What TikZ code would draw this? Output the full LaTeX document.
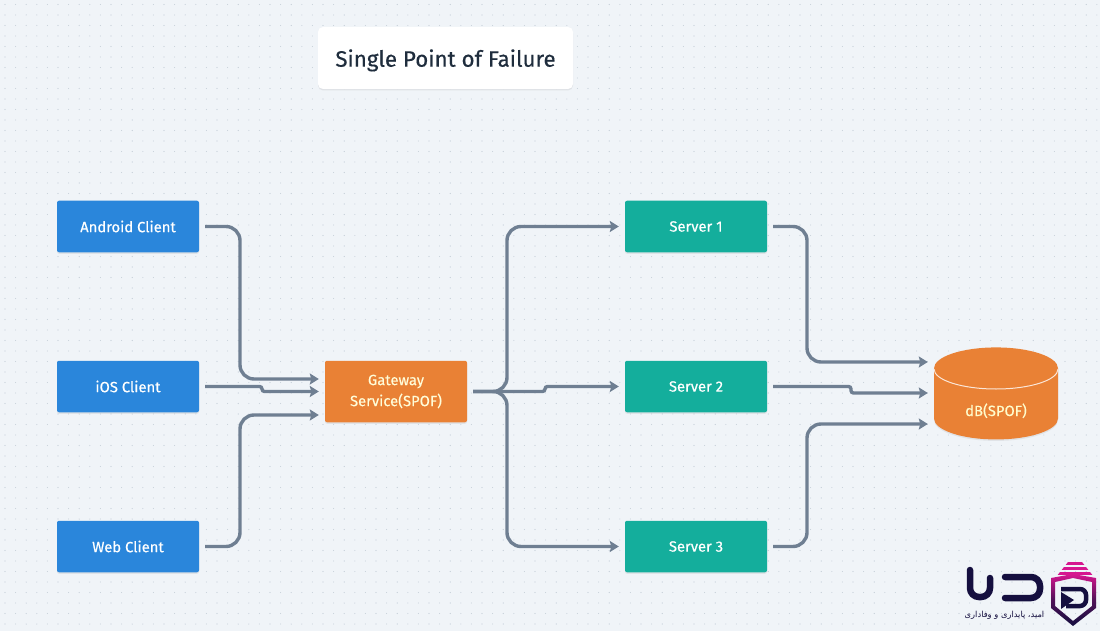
\documentclass[tikz,border=0pt]{standalone}
\usepackage{fontspec}
\setmainfont{Fira Sans}
\newfontfamily\boxfont{Fira Sans}[FakeBold=0.35]
\newfontfamily\arabicfont[Script=Arabic]{DejaVu Sans}
\TeXXeTstate=1
\usetikzlibrary{arrows.meta,shadows,shapes.geometric}
\definecolor{pagebg}{HTML}{F0F4F8}
\definecolor{griddot}{HTML}{C3CDD7}
\definecolor{titleink}{HTML}{1F2D3D}
\definecolor{clientblue}{HTML}{2A86DB}
\definecolor{serverteal}{HTML}{14AE9C}
\definecolor{spoforange}{HTML}{E98135}
\definecolor{flowgray}{HTML}{6F7F92}
\definecolor{logonavy}{HTML}{150F3F}
\definecolor{logopink}{HTML}{D6168F}
\tikzset{
  softshadow/.style={drop shadow={opacity=0.14, shadow xshift=0, shadow yshift=1.5}},
  box/.style={rounded corners=2, minimum width=142, minimum height=51.5, inner sep=0,
    text=white, font=\boxfont\fontsize{14.8}{21}\selectfont, align=center, softshadow},
  clientbox/.style={box, fill=clientblue},
  serverbox/.style={box, fill=serverteal},
  gatewaybox/.style={box, fill=spoforange, minimum height=61.5, text=white!85!yellow},
  flow/.style={draw=flowgray, line width=3.4, rounded corners=14, shorten <=6, shorten >=6,
    -{Stealth[length=9, width=11, inset=1.5]}},
  jogflow/.style={flow, rounded corners=2.5},
}
\begin{document}
\begin{tikzpicture}[x=1, y=-1]
\useasboundingbox (0,0) rectangle (1100,631);
\fill[pagebg] (0,0) rectangle (1100,631);

% dotted paper
\foreach \i in {0,...,103}
    \foreach \j in {0,...,59}
		\fill[griddot] (5 + 10.6*\i, 4.5 + 10.5*\j) circle (0.55);

\node[fill=white, rounded corners=5, minimum width=255, minimum height=62, inner sep=0, text depth=0,
  text=titleink, font=\boxfont\fontsize{22.3}{28}\selectfont, softshadow] (title) at (445.5,58) {Single Point of Failure};

% clients
\node[clientbox] (android) at (128,226.5) {Android Client};
\node[clientbox] (ios) at (128,386.5) {iOS Client};
\node[clientbox] (web) at (128,546.5) {Web Client};

\node[gatewaybox] (gateway) at (396,391.5) {Gateway\\Service(SPOF)};

% servers
\node[serverbox] (server1) at (696,226.5) {Server 1};
\node[serverbox] (server2) at (696,386.5) {Server 2};
\node[serverbox] (server3) at (696,546.5) {Server 3};

\node[shape=cylinder, shape border rotate=90, aspect=0.68, fill=spoforange, minimum width=124,
  minimum height=92, inner sep=0, text=white!80!yellow, font=\boxfont\fontsize{14.8}{21}\selectfont,
  softshadow] (db) at (996,404) {\smash{\raisebox{-12pt}{dB(SPOF)}}};
\draw[white!80!spoforange, line width=1] (934,369) arc[start angle=180, end angle=360, x radius=62pt, y radius=20pt];

\coordinate (ina) at (240,379);
\coordinate (inc) at (240,415);
\coordinate (iosjog) at (262,391.5);
\coordinate (outa) at (507,391.5);
\coordinate (midjog) at (545,386.5);
\coordinate (dba) at (807,362);
\coordinate (dbc) at (807,424);
\coordinate (dbjog) at (851,393);

\draw[flow] (android.east) -| (ina) -- ([yshift=12.5]gateway.west);
\draw[jogflow] (ios.east) -| (iosjog) -- (gateway.west);
\draw[flow] (web.east) -| (inc) -- ([yshift=-23.5]gateway.west);

\draw[flow] (gateway.east) -- (outa) |- (server1.west);
\draw[jogflow] (gateway.east) -| (midjog) -- (server2.west);
\draw[flow] (gateway.east) -- (outa) |- (server3.west);

\draw[flow] (server1.east) -| (dba) -- ([yshift=42]db.west);
\draw[jogflow] (server2.east) -| (dbjog) -- ([yshift=11]db.west);
\draw[flow] (server3.east) -| (dbc) -- ([yshift=-20]db.west);

% logo
\draw[logonavy, line width=6.5, line cap=round, rounded corners=9] (970,570) |- (990,597) -- (990,578);
\draw[logonavy, line width=6.5, line cap=round, rounded corners=9] (1005,577) -- (1040,577) -- (1040,598) -- (1005,598);
\begin{scope}
  \clip (1068,562) -- (1082,562) -- (1094,577) -- (1056,577) -- cycle;
  \foreach \y in {562,567,572}
    \fill[logopink] (1050,\y) rectangle (1100,\y + 3.4);
\end{scope}
\shade[even odd rule, top color=logopink, bottom color=logonavy, middle color=logonavy!70!logopink]
  (1051,578) -- (1073,574) -- (1096,578) -- (1096,608) -- (1073,626) -- (1051,608) -- cycle
  (1055,582) -- (1055,606) -- (1073,621) -- (1092,606) -- (1092,582) -- (1073,578) -- cycle;
\draw[logonavy, line width=4.5, rounded corners=6] (1061,589) -- (1086,589) -- (1086,606) -- (1066,606);
\fill[logonavy] (1061,592) -- (1074,600) -- (1061,609) -- cycle;
\node[text=logonavy, inner sep=0, font=\arabicfont\fontsize{8.3}{10}\selectfont] (tagline) at (1004.5,615.5) {\beginR امید، پایداری و وفاداری\endR};
\end{tikzpicture}
\end{document}
